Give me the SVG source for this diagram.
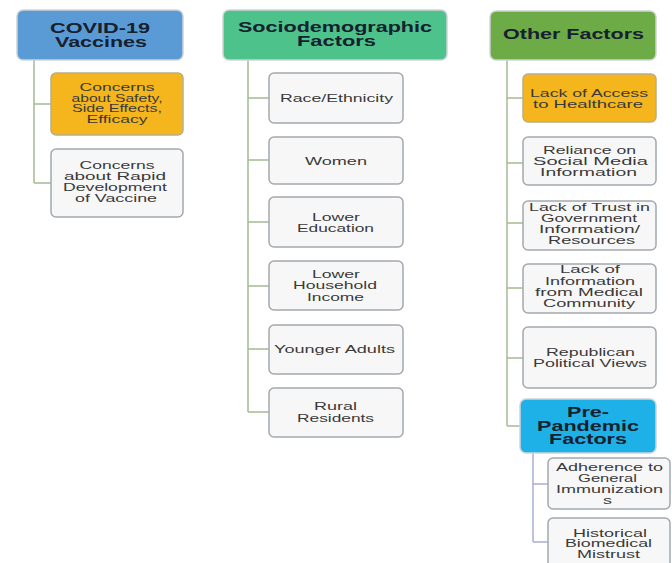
<svg xmlns="http://www.w3.org/2000/svg" width="672" height="563" viewBox="0 0 672 563">
<style>
.hd{font-family:"Liberation Sans",Arial,sans-serif;font-weight:bold;font-size:15px;fill:#17202e;text-anchor:middle}
.tx{font-family:"Liberation Sans",Arial,sans-serif;font-size:10.8px;fill:#3a3a3a;text-anchor:middle}
.hbox{stroke:#cfd4d8;stroke-width:1.5}
.obox{fill:#f4b61c;stroke:#b9ae86;stroke-width:1.5}
.wbox{fill:#f7f7f7;stroke:#a3a9b0;stroke-width:1.5}
.cn{fill:none;stroke:#a3bc94;stroke-width:1.5}
.cn2{fill:none;stroke:#a9afd8;stroke-width:1.5}
</style>
<rect width="672" height="563" fill="#ffffff"/>
<g id="connectors">
<path class="cn" d="M34,60 V183 M34,104 H51 M34,183 H51"/>
<path class="cn" d="M248,60 V412 M248,98 H269 M248,160 H269 M248,222 H269 M248,286 H269 M248,349 H269 M248,412 H269"/>
<path class="cn" d="M507,60 V426 M507,98 H523 M507,163 H523 M507,223 H523 M507,288 H523 M507,358 H523 M507,426 H520"/>
<path class="cn2" d="M533,453 V542 M533,484 H548 M533,542 H548"/>
</g>
<g id="covid">
<rect class="hbox" x="17" y="10" width="166" height="50" rx="6" fill="#5b9bd5"/>
<text class="hd" x="100" y="33" textLength="100" lengthAdjust="spacingAndGlyphs">COVID-19</text>
<text class="hd" x="101" y="46.7" textLength="92" lengthAdjust="spacingAndGlyphs">Vaccines</text>
</g>
<g id="safety">
<rect class="obox" x="51" y="73" width="132" height="62" rx="5"/>
<text class="tx" x="117" y="90.7" textLength="75" lengthAdjust="spacingAndGlyphs">Concerns</text>
<text class="tx" x="117" y="101.5" textLength="91" lengthAdjust="spacingAndGlyphs">about Safety,</text>
<text class="tx" x="117" y="112.3" textLength="90" lengthAdjust="spacingAndGlyphs">Side Effects,</text>
<text class="tx" x="117" y="123" textLength="61" lengthAdjust="spacingAndGlyphs">Efficacy</text>
</g>
<g id="rapid">
<rect class="wbox" x="51" y="149" width="132" height="68" rx="5"/>
<text class="tx" x="117" y="169" textLength="75" lengthAdjust="spacingAndGlyphs">Concerns</text>
<text class="tx" x="115" y="180" textLength="102" lengthAdjust="spacingAndGlyphs">about Rapid</text>
<text class="tx" x="115" y="191" textLength="104" lengthAdjust="spacingAndGlyphs">Development</text>
<text class="tx" x="116" y="202" textLength="82" lengthAdjust="spacingAndGlyphs">of Vaccine</text>
</g>
<g id="socio">
<rect class="hbox" x="223" y="10" width="224" height="50" rx="6" fill="#4dc28b"/>
<text class="hd" x="335" y="32.3" textLength="194" lengthAdjust="spacingAndGlyphs">Sociodemographic</text>
<text class="hd" x="336.5" y="45.7" textLength="79" lengthAdjust="spacingAndGlyphs">Factors</text>
</g>
<g id="race">
<rect class="wbox" x="269" y="73" width="134" height="50" rx="5"/>
<text class="tx" x="336.5" y="101.7" textLength="113" lengthAdjust="spacingAndGlyphs">Race/Ethnicity</text>
</g>
<g id="women">
<rect class="wbox" x="269" y="137" width="134" height="47" rx="5"/>
<text class="tx" x="336" y="164.5" textLength="62" lengthAdjust="spacingAndGlyphs">Women</text>
</g>
<g id="education">
<rect class="wbox" x="269" y="197" width="134" height="50" rx="5"/>
<text class="tx" x="336" y="220.7" textLength="48" lengthAdjust="spacingAndGlyphs">Lower</text>
<text class="tx" x="335.5" y="231.7" textLength="77" lengthAdjust="spacingAndGlyphs">Education</text>
</g>
<g id="income">
<rect class="wbox" x="269" y="261" width="134" height="49" rx="5"/>
<text class="tx" x="336" y="277.5" textLength="48" lengthAdjust="spacingAndGlyphs">Lower</text>
<text class="tx" x="335" y="289" textLength="84" lengthAdjust="spacingAndGlyphs">Household</text>
<text class="tx" x="335.5" y="300.5" textLength="57" lengthAdjust="spacingAndGlyphs">Income</text>
</g>
<g id="younger">
<rect class="wbox" x="269" y="325" width="134" height="49" rx="5"/>
<text class="tx" x="334.5" y="353" textLength="121" lengthAdjust="spacingAndGlyphs">Younger Adults</text>
</g>
<g id="rural">
<rect class="wbox" x="269" y="388" width="134" height="49" rx="5"/>
<text class="tx" x="335.5" y="410" textLength="43" lengthAdjust="spacingAndGlyphs">Rural</text>
<text class="tx" x="335.5" y="422" textLength="77" lengthAdjust="spacingAndGlyphs">Residents</text>
</g>
<g id="other">
<rect class="hbox" x="490" y="11" width="166" height="49" rx="6" fill="#6dab47"/>
<text class="hd" x="573.5" y="39.3" textLength="141" lengthAdjust="spacingAndGlyphs">Other Factors</text>
</g>
<g id="access">
<rect class="obox" x="523" y="74" width="133" height="48" rx="5"/>
<text class="tx" x="589" y="96.7" textLength="118" lengthAdjust="spacingAndGlyphs">Lack of Access</text>
<text class="tx" x="588" y="107.5" textLength="110" lengthAdjust="spacingAndGlyphs">to Healthcare</text>
</g>
<g id="social">
<rect class="wbox" x="523" y="137" width="133" height="48" rx="5"/>
<text class="tx" x="589.5" y="154" textLength="93" lengthAdjust="spacingAndGlyphs">Reliance on</text>
<text class="tx" x="590.5" y="165" textLength="115" lengthAdjust="spacingAndGlyphs">Social Media</text>
<text class="tx" x="588.5" y="176" textLength="97" lengthAdjust="spacingAndGlyphs">Information</text>
</g>
<g id="trust">
<rect class="wbox" x="523" y="201" width="133" height="49" rx="5"/>
<text class="tx" x="589.5" y="210.7" textLength="121" lengthAdjust="spacingAndGlyphs">Lack of Trust in</text>
<text class="tx" x="589" y="222" textLength="96" lengthAdjust="spacingAndGlyphs">Government</text>
<text class="tx" x="589.5" y="233" textLength="101" lengthAdjust="spacingAndGlyphs">Information/</text>
<text class="tx" x="591.5" y="244" textLength="87" lengthAdjust="spacingAndGlyphs">Resources</text>
</g>
<g id="medical">
<rect class="wbox" x="523" y="264" width="133" height="49" rx="5"/>
<text class="tx" x="590" y="273" textLength="60" lengthAdjust="spacingAndGlyphs">Lack of</text>
<text class="tx" x="590" y="284.5" textLength="90" lengthAdjust="spacingAndGlyphs">Information</text>
<text class="tx" x="589" y="296" textLength="108" lengthAdjust="spacingAndGlyphs">from Medical</text>
<text class="tx" x="589" y="307" textLength="92" lengthAdjust="spacingAndGlyphs">Community</text>
</g>
<g id="republican">
<rect class="wbox" x="523" y="327" width="133" height="61" rx="5"/>
<text class="tx" x="590.5" y="356" textLength="89" lengthAdjust="spacingAndGlyphs">Republican</text>
<text class="tx" x="590" y="367" textLength="114" lengthAdjust="spacingAndGlyphs">Political Views</text>
</g>
<g id="prepandemic">
<rect class="hbox" x="520" y="399" width="136" height="54" rx="6" fill="#1db1e7"/>
<text class="hd" x="588" y="417" textLength="42" lengthAdjust="spacingAndGlyphs">Pre-</text>
<text class="hd" x="588" y="430.5" textLength="102" lengthAdjust="spacingAndGlyphs">Pandemic</text>
<text class="hd" x="588" y="444" textLength="78" lengthAdjust="spacingAndGlyphs">Factors</text>
</g>
<g id="adherence">
<rect class="wbox" x="548" y="458" width="122" height="51" rx="5" fill="#f7f7f7"/>
<text class="tx" x="609.5" y="471" textLength="107" lengthAdjust="spacingAndGlyphs">Adherence to</text>
<text class="tx" x="607.5" y="482" textLength="59" lengthAdjust="spacingAndGlyphs">General</text>
<text class="tx" x="609.5" y="493" textLength="107" lengthAdjust="spacingAndGlyphs">Immunization</text>
<text class="tx" x="607.5" y="503.5" textLength="9" lengthAdjust="spacingAndGlyphs">s</text>
</g>
<g id="historical">
<rect class="wbox" x="548" y="518" width="122" height="50" rx="5"/>
<text class="tx" x="610" y="536.5" textLength="74" lengthAdjust="spacingAndGlyphs">Historical</text>
<text class="tx" x="608.5" y="547" textLength="87" lengthAdjust="spacingAndGlyphs">Biomedical</text>
<text class="tx" x="608.5" y="557.5" textLength="63" lengthAdjust="spacingAndGlyphs">Mistrust</text>
</g>
</svg>
